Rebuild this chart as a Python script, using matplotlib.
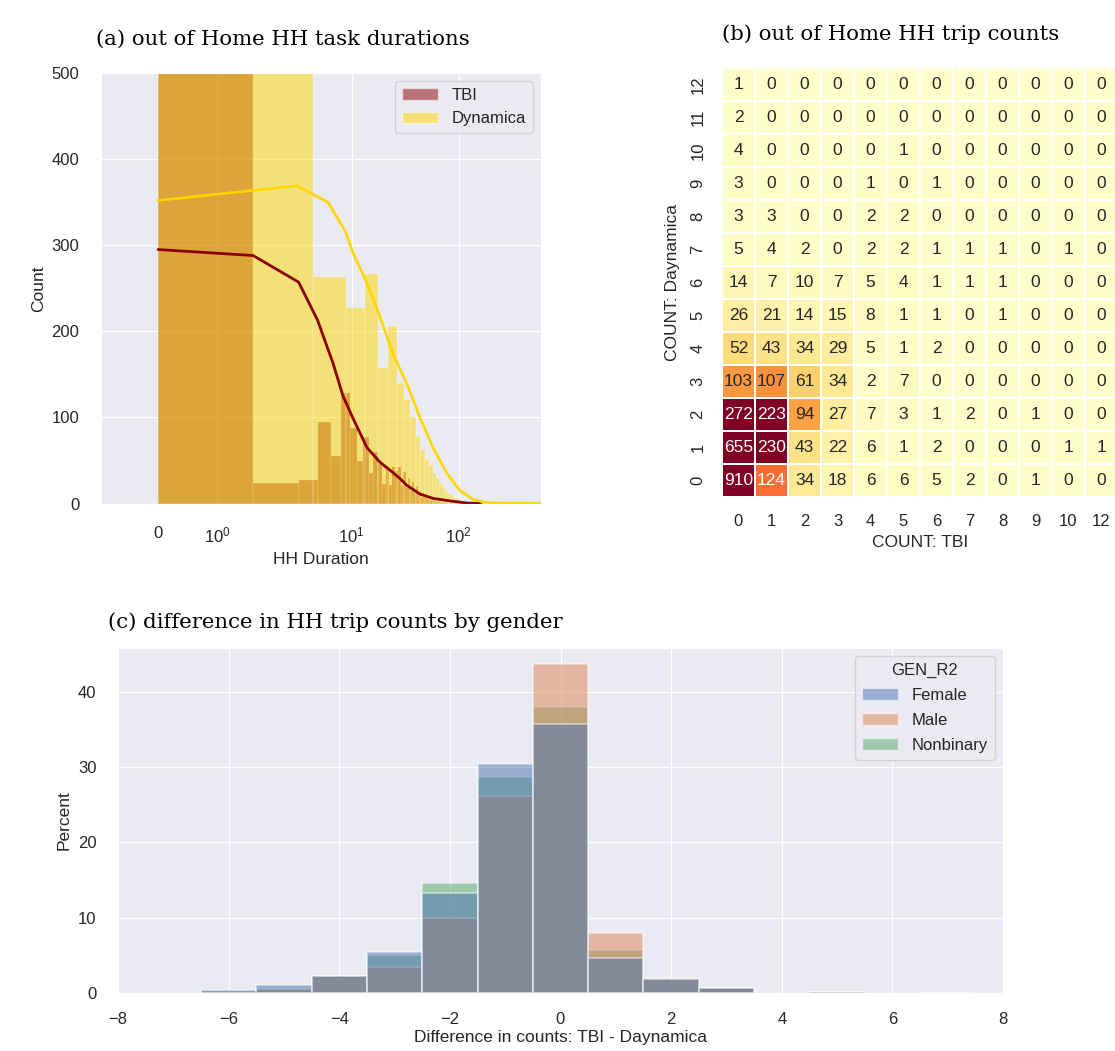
import numpy as np
import matplotlib
matplotlib.use("Agg")
import matplotlib.pyplot as plt
import seaborn as sns
from matplotlib.patches import Patch

sns.set_style("darkgrid")
plt.rcParams["font.family"] = ["Liberation Sans", "DejaVu Sans"]
TXT = "#262626"

# ---------------- data: (a) out of Home HH task durations ----------------
tbi_bin_width = 1.6
tbi_counts = [1050, 24, 27, 95, 55, 128, 88, 49, 77, 35, 60, 46, 23, 44, 21, 42,
              38, 42, 22, 37, 18, 30, 14, 25, 12, 20, 10, 16, 8, 13, 7, 10,
              5, 8, 4, 6, 4, 5, 3, 4, 2, 3, 2, 2, 1, 2, 1, 1, 1, 1, 0, 1,
              0, 1, 0, 1, 0, 0, 1, 0, 0, 1, 0, 0, 0, 1, 0, 0, 0, 0, 1, 0,
              0, 0, 0, 0, 0, 0, 0, 1, 0, 0, 0, 0, 0, 0, 0, 0, 0, 0, 0, 0,
              0, 0, 0, 0, 0, 0, 0, 0, 0, 0, 0, 0, 1]
dyn_bin_width = 4.4
dyn_counts = [900, 263, 227, 267, 157, 206, 140, 120, 100, 78, 62, 52, 45, 36,
              30, 24, 19, 15, 12, 10, 8, 6, 5, 4, 3, 3, 2, 2, 2, 1, 1, 1, 1,
              0, 1, 0, 0, 1, 0, 0, 0, 1, 0, 0, 0, 0, 1, 0, 0, 0, 0, 0, 0, 1,
              0, 0, 0, 0, 0, 0, 0, 0, 0, 1, 0, 0, 0, 0, 0, 0, 0, 0, 0, 0, 0,
              0, 0, 0, 0, 0, 0, 0, 0, 0, 0, 0, 0, 0, 0, 0, 0, 0, 0, 0, 0, 0,
              0, 0, 0, 0, 0, 0, 0, 0, 0, 0, 0, 0, 0, 0, 0, 0, 0, 0, 0, 0, 0,
              0, 0, 0, 0, 0, 0, 0, 0, 0, 0, 1]
tbi_kde_x = [0, 1.6, 3.2, 4.8, 6.7, 8.3, 10.3, 13.9, 18.4, 24.3, 28.3, 32.9,
             43.5, 57.6, 83, 120, 160]
tbi_kde_y = [295, 288, 257, 213, 163, 125, 99, 65, 48, 36, 29, 21,
             11, 6, 3, 0.5, 0.1]
dyn_kde_x = [0, 3.08, 6.0, 8.85, 10.07, 13.9, 18.4, 24.3, 32.9, 43.5, 57.6,
             77.8, 102.9, 136, 172, 243, 590]
dyn_kde_y = [352, 369, 350, 315, 294, 256, 217, 174, 139, 100, 65,
             35, 15, 5, 1.5, 0.5, 0.2]

# ---------------- data: (b) out of Home HH trip counts ----------------
tbi_levels = [0, 1, 2, 3, 4, 5, 6, 7, 8, 9, 10, 12]
dyn_levels = [12, 11, 10, 9, 8, 7, 6, 5, 4, 3, 2, 1, 0]
trip_matrix = [
    [1, 0, 0, 0, 0, 0, 0, 0, 0, 0, 0, 0],
    [2, 0, 0, 0, 0, 0, 0, 0, 0, 0, 0, 0],
    [4, 0, 0, 0, 0, 1, 0, 0, 0, 0, 0, 0],
    [3, 0, 0, 0, 1, 0, 1, 0, 0, 0, 0, 0],
    [3, 3, 0, 0, 2, 2, 0, 0, 0, 0, 0, 0],
    [5, 4, 2, 0, 2, 2, 1, 1, 1, 0, 1, 0],
    [14, 7, 10, 7, 5, 4, 1, 1, 1, 0, 0, 0],
    [26, 21, 14, 15, 8, 1, 1, 0, 1, 0, 0, 0],
    [52, 43, 34, 29, 5, 1, 2, 0, 0, 0, 0, 0],
    [103, 107, 61, 34, 2, 7, 0, 0, 0, 0, 0, 0],
    [272, 223, 94, 27, 7, 3, 1, 2, 0, 1, 0, 0],
    [655, 230, 43, 22, 6, 1, 2, 0, 0, 0, 1, 1],
    [910, 124, 34, 18, 6, 6, 5, 2, 0, 1, 0, 0],
]

# ---------------- data: (c) difference in HH trip counts by gender ----------------
diff_bins = [-6, -5, -4, -3, -2, -1, 0, 1, 2, 3, 4, 5, 6, 7]
female_pct = [0.45, 1.0, 2.3, 5.5, 13.3, 30.4, 35.7, 4.7, 1.9, 0.7, 0, 0.12, 0, 0.06]
male_pct = [0.2, 0.5, 2.2, 3.4, 10.0, 26.2, 43.7, 8.0, 2.0, 0.6, 0, 0.15, 0, 0.05]
nonbinary_pct = [0.2, 0.5, 2.2, 5.0, 14.6, 28.7, 38.0, 5.7, 1.9, 0.6, 0, 0, 0, 0]
gender_labels = ["Female", "Male", "Nonbinary"]

W, H = 1115, 1051
fig = plt.figure(figsize=(W / 100, H / 100), dpi=100)


def box(l, t, r, b):
    return [l / W, 1 - b / H, (r - l) / W, (b - t) / H]


title_kw = dict(family="DejaVu Serif", fontsize=15.3, color="black", ha="center", va="center")

# ---------------- panel (a) ----------------
ax = fig.add_axes(box(101, 73, 541, 503.5))
ax.set_xscale("symlog", linthresh=2)
tbi_edges = np.arange(len(tbi_counts)) * tbi_bin_width
dyn_edges = np.arange(len(dyn_counts)) * dyn_bin_width
ax.bar(tbi_edges, tbi_counts, width=tbi_bin_width, align="edge", color="darkred",
       alpha=0.5, edgecolor="white", linewidth=0.3)
ax.plot(tbi_kde_x, tbi_kde_y, color="darkred", lw=2)
ax.bar(dyn_edges, dyn_counts, width=dyn_bin_width, align="edge", color="gold",
       alpha=0.5, edgecolor="white", linewidth=0.3)
ax.plot(dyn_kde_x, dyn_kde_y, color="gold", lw=1.9)
ax.set_xlim(-0.96, 590)
ax.set_ylim(0, 500)
ax.set_yticks([0, 100, 200, 300, 400, 500])
ax.set_xticks([0, 1, 10, 100])
ax.tick_params(axis="both", labelsize=12, colors=TXT)
ax.tick_params(axis="x", pad=12)
ax.tick_params(axis="y", pad=12)
ax.set_xlabel("HH Duration", fontsize=12.5, color=TXT, va="center")
ax.xaxis.set_label_coords(0.5, -0.131)
ax.set_ylabel("Count", fontsize=12.5, color=TXT, va="center")
ax.yaxis.set_label_coords(-0.141, 0.5)
ax.legend(handles=[Patch(facecolor="darkred", alpha=0.5, edgecolor="white", label="TBI"),
                   Patch(facecolor="gold", alpha=0.5, edgecolor="white", label="Dynamica")],
          loc="upper right", fontsize=12, handlelength=2.2)
fig.text(283 / W, 1 - 39 / H, "(a) out of Home HH task durations", **title_kw)

# ---------------- panel (b) ----------------
axb = fig.add_axes(box(722, 68, 1118, 497))
sns.heatmap(np.array(trip_matrix), ax=axb, cmap="YlOrRd", vmin=0, vmax=220,
            annot=True, fmt="d", annot_kws={"size": 12.5}, linewidths=1.2,
            linecolor="white", cbar=False, xticklabels=tbi_levels,
            yticklabels=dyn_levels)
for t in axb.texts:
    t.set_color("white" if int(t.get_text()) >= 120 else TXT)
axb.set_yticklabels(dyn_levels, rotation=90, va="center")
axb.tick_params(axis="both", labelsize=12, colors=TXT, length=0)
axb.tick_params(axis="x", pad=12)
axb.tick_params(axis="y", pad=12)
axb.set_xlabel("COUNT: TBI", fontsize=12.5, color=TXT, va="center")
axb.xaxis.set_label_coords(0.5, -0.107)
axb.set_ylabel("COUNT: Daynamica", fontsize=12.5, color=TXT, va="center")
axb.yaxis.set_label_coords(-0.125, 0.5)
fig.text(891 / W, 1 - 34 / H, "(b) out of Home HH trip counts", **title_kw)

# ---------------- panel (c) ----------------
axc = fig.add_axes(box(118, 648, 1003, 993))
pal = sns.color_palette("deep")
series = [(female_pct, pal[0]), (male_pct, pal[1]), (nonbinary_pct, pal[2])]
for vals, col in series[::-1]:
    v = np.array(vals, dtype=float)
    x = np.array(diff_bins, dtype=float)
    m = v > 0
    axc.bar(x[m], v[m], width=1.0, color=col, alpha=0.5, edgecolor="white", linewidth=1.2)
axc.set_xlim(-8, 8)
axc.set_ylim(0, 45.8)
axc.set_xticks(np.arange(-8, 9, 2))
axc.set_yticks([0, 10, 20, 30, 40])
axc.tick_params(axis="both", labelsize=12, colors=TXT)
axc.tick_params(axis="x", pad=10)
axc.tick_params(axis="y", pad=12)
axc.set_xlabel("Difference in counts: TBI - Daynamica", fontsize=12.5, color=TXT, va="center")
axc.xaxis.set_label_coords(0.5, -0.130)
axc.set_ylabel("Percent", fontsize=12.5, color=TXT, va="center")
axc.yaxis.set_label_coords(-0.061, 0.5)
axc.legend(handles=[Patch(facecolor=c, alpha=0.5, edgecolor="white", label=l)
                    for (v, c), l in zip(series, gender_labels)],
           title="GEN_R2", loc="upper right", fontsize=12, title_fontsize=12,
           handlelength=2.2, labelspacing=0.6)
fig.text(335 / W, 1 - 622 / H, "(c) difference in HH trip counts by gender", **title_kw)

fig.savefig("out.png", dpi=100)
